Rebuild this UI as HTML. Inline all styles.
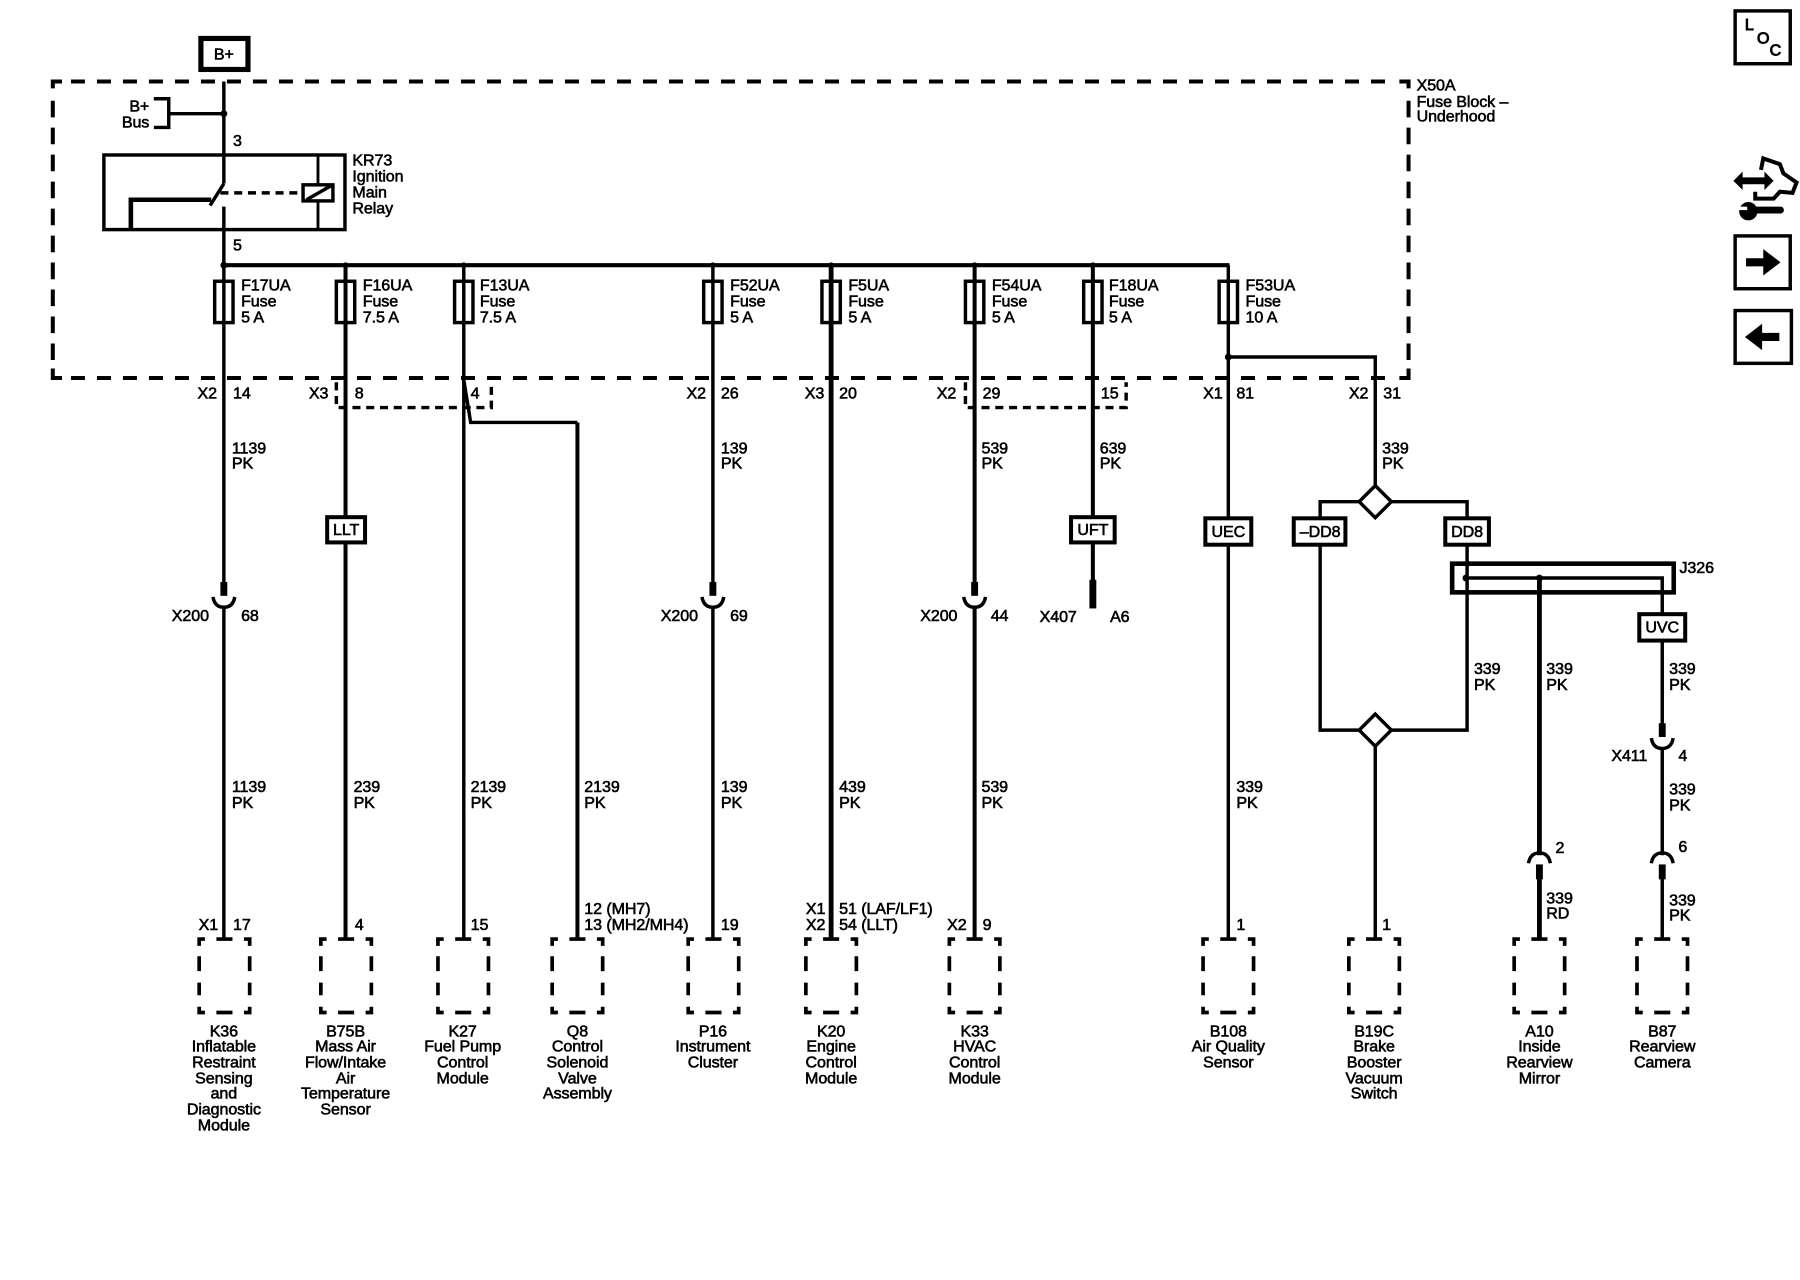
<!DOCTYPE html>
<html><head><meta charset="utf-8"><style>
html,body{margin:0;padding:0;background:#fff}
svg{display:block}
text{font-family:"Liberation Sans",sans-serif;font-size:14px;fill:#000;stroke:#000;stroke-width:.5;letter-spacing:-.08px}
.m{text-anchor:middle}.e{text-anchor:end}
.w{fill:none;stroke:#000;stroke-width:3}
.t{fill:none;stroke:#000;stroke-width:3.5}
.b{fill:#fff;stroke:#000;stroke-width:3.5}
</style></head><body>
<svg xmlns="http://www.w3.org/2000/svg" width="1800" height="1280" viewBox="0 0 1568 1115">
<defs>
<g id="mod" fill="none" stroke="#000" stroke-width="3.2">
<path d="M-22 7V1H-17M-7 1H7M17 1H22V7M-22 16V29M22 16V29M-22 39V50M22 39V50M-22 60V65H-17M-7 65H7M17 65H22V60"/>
</g>
<g id="fuse"><rect x="-8" y="245" width="16" height="36" fill="none" stroke="#000" stroke-width="3"/></g>
<g id="cup"><path d="M-9.500 -1Q-8 8 0 8Q8 8 9.500 -1" fill="none" stroke="#000" stroke-width="3"/><rect x="-3" y="-14" width="6" height="12"/></g>
<g id="cap"><path d="M-9.500 10Q-8 1 0 1Q8 1 9.500 10" fill="none" stroke="#000" stroke-width="3"/><rect x="-3" y="11" width="6" height="13"/></g>
</defs>

<!-- top power -->
<rect x="175" y="33.500" width="41" height="27" fill="#fff" stroke="#000" stroke-width="4.500"/>
<text class="m" x="195" y="52">B+</text>

<!-- fuse block outline -->
<g fill="none" stroke="#000" stroke-width="3.500">
<path d="M46 77V71H54M1219 71H1227V77M46 321V329.300H54M1219 329.300H1227V321"/>
<path d="M61.800 71H1216" stroke-dasharray="12.200 10.450"/>
<path d="M61.800 329.300H1216" stroke-dasharray="12.200 10.450"/>
<path d="M46 87.700V313.600" stroke-dasharray="14.500 9"/>
<path d="M1227 87.700V313.600" stroke-dasharray="14.500 9"/>
</g>
<path class="w" d="M195 71V160M195 180V231"/>
<path d="M134 86H147V111H134M147 99H195" fill="none" stroke="#000" stroke-width="3"/>
<circle cx="195" cy="99" r="3"/>
<text class="e" x="130" y="97">B+</text><text class="e" x="130" y="111">Bus</text>
<text x="203" y="127">3</text>

<rect x="90.500" y="135" width="210" height="65" fill="none" stroke="#000" stroke-width="3"/>
<path d="M277 135V200" stroke="#000" stroke-width="2.500"/>
<path d="M114 200V174H184" fill="none" stroke="#000" stroke-width="4"/>
<path d="M195 160L183 179" stroke="#000" stroke-width="3"/>
<path d="M192 168H263" stroke="#000" stroke-width="3" stroke-dasharray="7 5"/>
<rect x="264" y="161" width="26" height="14" fill="#fff" stroke="#000" stroke-width="3"/>
<path d="M267 174L288 162" stroke="#000" stroke-width="3"/>
<text x="307" y="144">KR73</text><text x="307" y="158">Ignition</text><text x="307" y="172">Main</text><text x="307" y="186">Relay</text>
<text x="203" y="218">5</text>

<text x="1234" y="79">X50A</text><text x="1234" y="93">Fuse Block –</text><text x="1234" y="106">Underhood</text>

<!-- bus -->
<path d="M195 231H1071" stroke="#000" stroke-width="3.500"/>
<g fill="#000"><circle cx="195" cy="231" r="3"/><circle cx="301" cy="231" r="2.500"/><circle cx="404" cy="231" r="2.500"/><circle cx="621" cy="231" r="2.500"/><circle cx="724" cy="231" r="2.500"/><circle cx="849" cy="231" r="2.500"/><circle cx="952" cy="231" r="2.500"/></g>

<!-- wires -->
<path class="w" d="M195 231V507M195 529V817"/>
<path class="t" d="M301 231V817"/>
<path class="w" d="M404 231V817"/>
<path class="w" d="M404 331L410 368H503"/>
<path class="t" d="M503 368V817"/>
<path class="w" d="M621 231V507M621 529V817"/>
<path stroke="#000" stroke-width="4.200" d="M724 231V817"/>
<path class="t" d="M849 231V507M849 529V817"/>
<path class="t" d="M952 231V450M952 473V508"/>
<rect x="949" y="505" width="6" height="25"/>
<path class="w" d="M1070 231V817"/>

<use href="#fuse" x="195"/><use href="#fuse" x="301"/><use href="#fuse" x="404"/><use href="#fuse" x="621"/><use href="#fuse" x="724"/><use href="#fuse" x="849"/><use href="#fuse" x="952"/><use href="#fuse" x="1070"/>
<text x="210" y="253">F17UA</text><text x="210" y="267">Fuse</text><text x="210" y="281">5 A</text>
<text x="316" y="253">F16UA</text><text x="316" y="267">Fuse</text><text x="316" y="281">7.5 A</text>
<text x="418" y="253">F13UA</text><text x="418" y="267">Fuse</text><text x="418" y="281">7.5 A</text>
<text x="636" y="253">F52UA</text><text x="636" y="267">Fuse</text><text x="636" y="281">5 A</text>
<text x="739" y="253">F5UA</text><text x="739" y="267">Fuse</text><text x="739" y="281">5 A</text>
<text x="864" y="253">F54UA</text><text x="864" y="267">Fuse</text><text x="864" y="281">5 A</text>
<text x="966" y="253">F18UA</text><text x="966" y="267">Fuse</text><text x="966" y="281">5 A</text>
<text x="1085" y="253">F53UA</text><text x="1085" y="267">Fuse</text><text x="1085" y="281">10 A</text>

<!-- small dashed -->
<path d="M293 333V355H428V333" fill="none" stroke="#000" stroke-width="3" stroke-dasharray="7 5"/>
<path d="M841 333V355H981V333" fill="none" stroke="#000" stroke-width="3" stroke-dasharray="7 5"/>

<!-- pin row -->
<text class="e" x="189" y="347">X2</text><text x="203" y="347">14</text>
<text class="e" x="286" y="347">X3</text><text x="309" y="347">8</text><text x="410" y="347">4</text>
<text class="e" x="615" y="347">X2</text><text x="628" y="347">26</text>
<text class="e" x="718" y="347">X3</text><text x="731" y="347">20</text>
<text class="e" x="833" y="347">X2</text><text x="856" y="347">29</text><text x="959" y="347">15</text>
<text class="e" x="1065" y="347">X1</text><text x="1077" y="347">81</text>
<text class="e" x="1192" y="347">X2</text><text x="1205" y="347">31</text>

<!-- 339 branch -->
<circle cx="1070" cy="311" r="3"/>
<path class="w" d="M1070 311H1198V424"/>
<path class="w" d="M1150 450V437H1278V450"/>
<path class="w" d="M1150 476V636H1278V476"/>
<path class="w" d="M1198 650V817"/>
<path d="M1198 423L1212 437L1198 451L1184 437Z" fill="#fff" stroke="#000" stroke-width="3"/>
<path d="M1198 622L1212 636L1198 650L1184 636Z" fill="#fff" stroke="#000" stroke-width="3"/>

<rect x="1265" y="491" width="193" height="25" fill="none" stroke="#000" stroke-width="4"/>
<path class="w" d="M1278 503.500H1448V534"/>
<circle cx="1277" cy="503.500" r="3"/><circle cx="1341" cy="503.500" r="3"/>
<path stroke="#000" stroke-width="4.200" d="M1341 503V745"/>
<path stroke="#000" stroke-width="4.200" d="M1341 765V817"/>
<path class="w" d="M1448 558V631M1448 651V745M1448 765V817"/>
<text x="1463" y="499">J326</text>

<!-- connectors -->
<use href="#cup" x="195" y="521"/><use href="#cup" x="621" y="521"/><use href="#cup" x="849" y="521"/><use href="#cup" x="1448" y="644"/>
<use href="#cap" x="1341" y="742"/><use href="#cap" x="1448" y="742"/>

<!-- option boxes -->
<g>
<rect x="285" y="450.500" width="33" height="22" class="b"/><text class="m" x="301.500" y="466">LLT</text>
<rect x="933" y="450.500" width="38" height="22" class="b"/><text class="m" x="952" y="466">UFT</text>
<rect x="1050" y="451.500" width="40" height="23" class="b"/><text class="m" x="1070" y="468">UEC</text>
<rect x="1127" y="451.500" width="45" height="23" class="b"/><text class="m" x="1150" y="468">–DD8</text>
<rect x="1259" y="451.500" width="38" height="23" class="b"/><text class="m" x="1278" y="468">DD8</text>
<rect x="1428" y="535" width="40" height="23" class="b"/><text class="m" x="1448" y="551">UVC</text>
</g>

<!-- inline connector labels -->
<text class="e" x="182" y="541">X200</text><text x="210" y="541">68</text>
<text class="e" x="608" y="541">X200</text><text x="636" y="541">69</text>
<text class="e" x="834" y="541">X200</text><text x="863" y="541">44</text>
<text class="e" x="938" y="542">X407</text><text x="967" y="542">A6</text>
<text class="e" x="1435" y="663">X411</text><text x="1462" y="663">4</text>
<text x="1355" y="743">2</text><text x="1462" y="742">6</text>

<!-- wire labels -->
<text x="202" y="395">1139</text><text x="202" y="408">PK</text>
<text x="628" y="395">139</text><text x="628" y="408">PK</text>
<text x="855" y="395">539</text><text x="855" y="408">PK</text>
<text x="958" y="395">639</text><text x="958" y="408">PK</text>
<text x="1204" y="395">339</text><text x="1204" y="408">PK</text>
<text x="202" y="690">1139</text><text x="202" y="704">PK</text>
<text x="308" y="690">239</text><text x="308" y="704">PK</text>
<text x="410" y="690">2139</text><text x="410" y="704">PK</text>
<text x="509" y="690">2139</text><text x="509" y="704">PK</text>
<text x="628" y="690">139</text><text x="628" y="704">PK</text>
<text x="731" y="690">439</text><text x="731" y="704">PK</text>
<text x="855" y="690">539</text><text x="855" y="704">PK</text>
<text x="1077" y="690">339</text><text x="1077" y="704">PK</text>
<text x="1284" y="587">339</text><text x="1284" y="601">PK</text>
<text x="1347" y="587">339</text><text x="1347" y="601">PK</text>
<text x="1454" y="587">339</text><text x="1454" y="601">PK</text>
<text x="1454" y="692">339</text><text x="1454" y="706">PK</text>
<text x="1347" y="787">339</text><text x="1347" y="800">RD</text>
<text x="1454" y="789">339</text><text x="1454" y="802">PK</text>

<!-- bottom pins -->
<text class="e" x="190" y="810">X1</text><text x="203" y="810">17</text>
<text x="309" y="810">4</text><text x="410" y="810">15</text>
<text x="509" y="796">12 (MH7)</text><text x="509" y="810">13 (MH2/MH4)</text>
<text x="628" y="810">19</text>
<text class="e" x="719" y="796">X1</text><text class="e" x="719" y="810">X2</text>
<text x="731" y="796">51 (LAF/LF1)</text><text x="731" y="810">54 (LLT)</text>
<text class="e" x="842" y="810">X2</text><text x="856" y="810">9</text>
<text x="1077" y="810">1</text><text x="1204" y="810">1</text>

<!-- modules -->
<use href="#mod" x="195.500" y="817"/><use href="#mod" x="301.500" y="817"/><use href="#mod" x="403.500" y="817"/><use href="#mod" x="503" y="817"/><use href="#mod" x="621.500" y="817"/><use href="#mod" x="724" y="817"/><use href="#mod" x="849" y="817"/><use href="#mod" x="1070" y="817"/><use href="#mod" x="1197" y="817"/><use href="#mod" x="1341" y="817"/><use href="#mod" x="1448" y="817"/>

<g text-anchor="middle">
<text x="195" y="903">K36</text><text x="195" y="916">Inflatable</text><text x="195" y="930">Restraint</text><text x="195" y="944">Sensing</text><text x="195" y="957">and</text><text x="195" y="971">Diagnostic</text><text x="195" y="985">Module</text>
<text x="301" y="903">B75B</text><text x="301" y="916">Mass Air</text><text x="301" y="930">Flow/Intake</text><text x="301" y="944">Air</text><text x="301" y="957">Temperature</text><text x="301" y="971">Sensor</text>
<text x="403" y="903">K27</text><text x="403" y="916">Fuel Pump</text><text x="403" y="930">Control</text><text x="403" y="944">Module</text>
<text x="503" y="903">Q8</text><text x="503" y="916">Control</text><text x="503" y="930">Solenoid</text><text x="503" y="944">Valve</text><text x="503" y="957">Assembly</text>
<text x="621" y="903">P16</text><text x="621" y="916">Instrument</text><text x="621" y="930">Cluster</text>
<text x="724" y="903">K20</text><text x="724" y="916">Engine</text><text x="724" y="930">Control</text><text x="724" y="944">Module</text>
<text x="849" y="903">K33</text><text x="849" y="916">HVAC</text><text x="849" y="930">Control</text><text x="849" y="944">Module</text>
<text x="1070" y="903">B108</text><text x="1070" y="916">Air Quality</text><text x="1070" y="930">Sensor</text>
<text x="1197" y="903">B19C</text><text x="1197" y="916">Brake</text><text x="1197" y="930">Booster</text><text x="1197" y="944">Vacuum</text><text x="1197" y="957">Switch</text>
<text x="1341" y="903">A10</text><text x="1341" y="916">Inside</text><text x="1341" y="930">Rearview</text><text x="1341" y="944">Mirror</text>
<text x="1448" y="903">B87</text><text x="1448" y="916">Rearview</text><text x="1448" y="930">Camera</text>
</g>

<!-- right icons -->
<rect x="1511.500" y="9.500" width="48" height="46" fill="none" stroke="#000" stroke-width="3"/>
<text x="1520" y="26" style="stroke-width:.8">L</text><text x="1530.500" y="38" style="stroke-width:.8">O</text><text x="1541.500" y="48.500" style="stroke-width:.8">C</text>

<path d="M1510 157.500L1518 149.500V154.500H1537V149.500L1545 157.500L1537 165.500V160.500H1518V165.500Z"/>
<path d="M1534 148L1536 138L1550.500 143L1553.500 151L1565 159L1561.500 168L1550.500 167L1545 173H1529V167" fill="none" stroke="#000" stroke-width="3.500"/>
<path d="M1525 183H1551" stroke="#000" stroke-width="6" stroke-linecap="round"/>
<circle cx="1523" cy="184" r="8"/>
<rect x="1514" y="180" width="8" height="3" fill="#fff"/>

<rect x="1511.500" y="205.500" width="48" height="46" fill="none" stroke="#000" stroke-width="3"/>
<path d="M1521 225H1536V217L1551 228.500L1536 240V232H1521Z"/>
<rect x="1511.500" y="270.500" width="49" height="46" fill="none" stroke="#000" stroke-width="3"/>
<path d="M1550 290H1535V282L1520 293.500L1535 305V297H1550Z"/>
</svg>
</body></html>
